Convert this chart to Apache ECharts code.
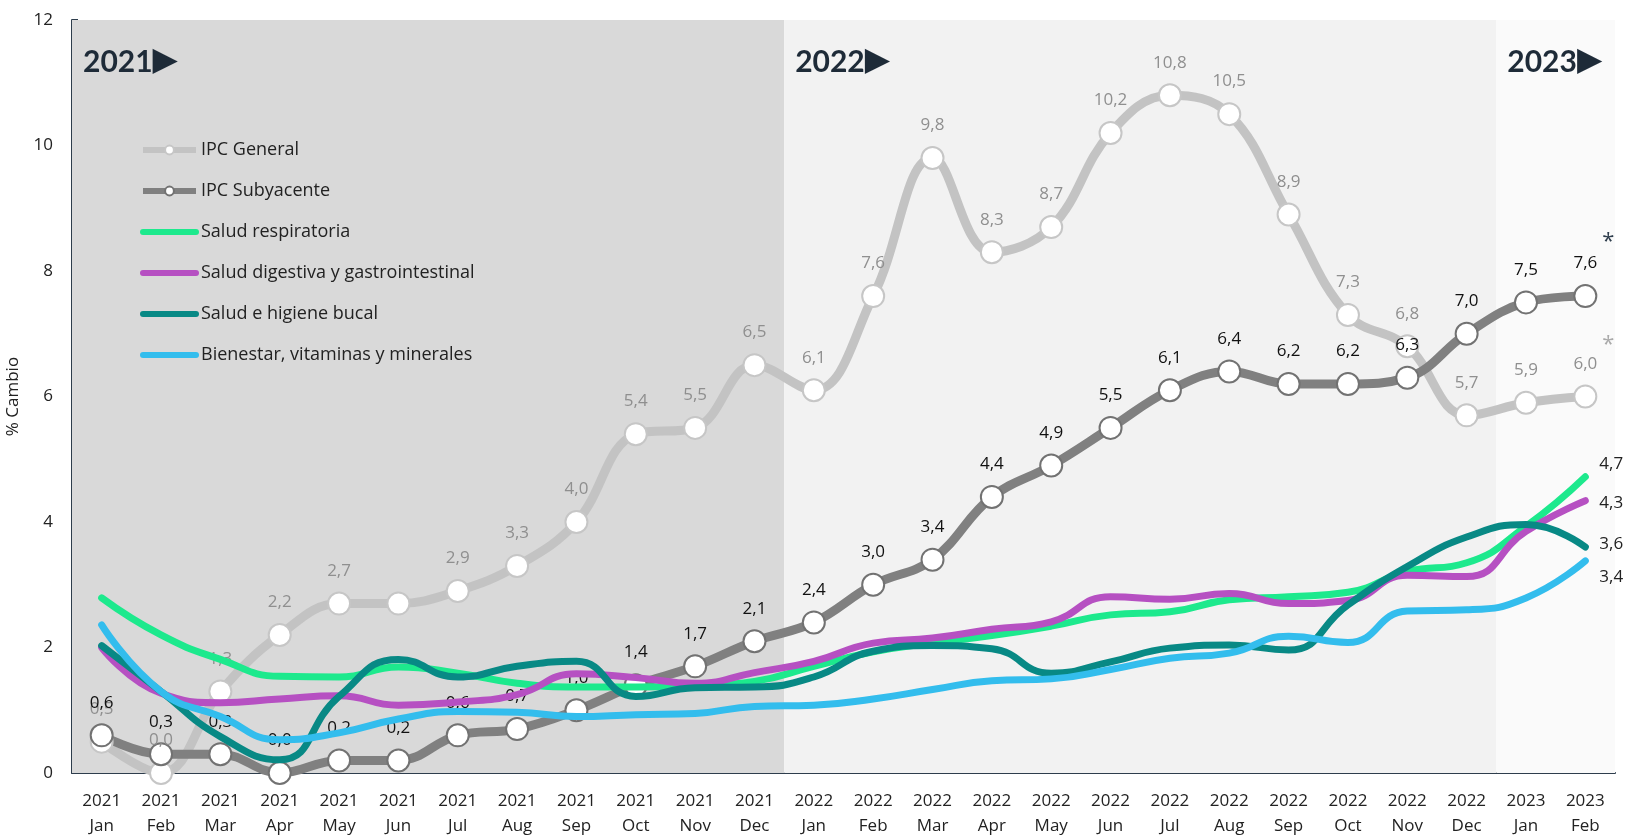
<!DOCTYPE html>
<html>
<head>
<meta charset="utf-8">
<title>IPC y categorías de salud</title>
<script src="https://cdn.jsdelivr.net/npm/echarts@6/dist/echarts.min.js"></script>
<style>
  html, body { margin: 0; padding: 0; background: #fff; }
  #chart { width: 1626px; height: 836px; }
</style>
</head>
<body>
<div id="chart"></div>
<script>
// categorías del eje x (año + mes)
var categories = [
    '2021\nJan', '2021\nFeb', '2021\nMar', '2021\nApr', '2021\nMay', '2021\nJun',
    '2021\nJul', '2021\nAug', '2021\nSep', '2021\nOct', '2021\nNov', '2021\nDec',
    '2022\nJan', '2022\nFeb', '2022\nMar', '2022\nApr', '2022\nMay', '2022\nJun',
    '2022\nJul', '2022\nAug', '2022\nSep', '2022\nOct', '2022\nNov', '2022\nDec',
    '2023\nJan', '2023\nFeb'
];

var ipcGeneral = [0.5, 0.0, 1.3, 2.2, 2.7, 2.7, 2.9, 3.3, 4.0, 5.4, 5.5, 6.5,
    6.1, 7.6, 9.8, 8.3, 8.7, 10.2, 10.8, 10.5, 8.9, 7.3, 6.8, 5.7, 5.9, 6.0];
var ipcSubyacente = [0.6, 0.3, 0.3, 0.0, 0.2, 0.2, 0.6, 0.7, 1.0, 1.4, 1.7, 2.1,
    2.4, 3.0, 3.4, 4.4, 4.9, 5.5, 6.1, 6.4, 6.2, 6.2, 6.3, 7.0, 7.5, 7.6];
var respiratoria = [2.79, 2.2, 1.81, 1.54, 1.53, 1.69, 1.59, 1.43, 1.37, 1.37, 1.39, 1.46,
    1.70, 1.93, 2.07, 2.19, 2.34, 2.52, 2.57, 2.76, 2.81, 2.88, 3.21, 3.35, 3.93, 4.72];
var digestiva = [2.0, 1.27, 1.12, 1.18, 1.23, 1.08, 1.13, 1.25, 1.58, 1.52, 1.43, 1.6,
    1.78, 2.07, 2.15, 2.29, 2.41, 2.81, 2.77, 2.86, 2.70, 2.75, 3.15, 3.13, 3.85, 4.34];
var bucal = [2.03, 1.30, 0.58, 0.21, 1.22, 1.81, 1.53, 1.70, 1.78, 1.22, 1.36, 1.37,
    1.53, 1.94, 2.03, 1.98, 1.59, 1.77, 1.99, 2.04, 1.96, 2.68, 3.29, 3.76, 3.96, 3.60];
var bienestar = [2.36, 1.30, 0.90, 0.53, 0.64, 0.86, 0.98, 0.97, 0.90, 0.93, 0.95, 1.06,
    1.08, 1.18, 1.33, 1.47, 1.50, 1.65, 1.83, 1.91, 2.18, 2.08, 2.58, 2.60, 2.79, 3.38];

// bloques de año (índices de categoría)
var yearNames = ['2021', '2022', '2023'];
var yearStart = [0, 12, 24];
var yearEnd = [12, 24, 26];
var yearColors = ['#d9d9d9', '#f2f2f2', '#fafafa'];

var FONT = '"Open Sans", "Noto Sans", sans-serif';
var last = categories.length - 1;

function comma(p) {
    return Number(p.value).toFixed(1).replace('.', ',');
}

// etiqueta oculta en el IPC General (Jun 2021)
var generalData = ipcGeneral.map(function (v, i) {
    return i === 5 ? { value: v, label: { show: false } } : v;
});

var yearAreas = yearNames.map(function (name, i) {
    return [
        { xAxis: yearStart[i], name: '{y|' + name + '}{t|\u25B6}', itemStyle: { color: yearColors[i] } },
        { xAxis: yearEnd[i] }
    ];
});

function saludSeries(name, data, color, offsetY) {
    return {
        name: name,
        type: 'line',
        data: data,
        smooth: 0.5,
        symbol: 'none',
        z: 3,
        lineStyle: { color: color, width: 7, cap: 'round' },
        itemStyle: { color: color },
        endLabel: {
            show: true,
            formatter: comma,
            color: '#222',
            fontSize: 17,
            fontFamily: FONT,
            distance: 14,
            offset: [0, offsetY]
        }
    };
}

function legendLine(name, withSymbol) {
    var item = { name: name, lineStyle: { width: 6 } };
    if (!withSymbol) {
        item.itemStyle = { opacity: 0 };
    }
    return item;
}

var myChart = echarts.init(document.getElementById('chart'));

var option = {
    animation: false,
    backgroundColor: '#fff',
    textStyle: { fontFamily: FONT },
    grid: { left: 72, right: 11, top: 20, bottom: 63, outerBoundsMode: 'none', containLabel: false },
    legend: {
        orient: 'vertical',
        left: 135,
        top: 136,
        itemWidth: 53,
        itemHeight: 11,
        itemGap: 23,
        textStyle: { fontSize: 18, color: '#222', fontFamily: FONT },
        data: [
            legendLine('IPC General', true),
            legendLine('IPC Subyacente', true),
            legendLine('Salud respiratoria', false),
            legendLine('Salud digestiva y gastrointestinal', false),
            legendLine('Salud e higiene bucal', false),
            legendLine('Bienestar, vitaminas y minerales', false)
        ]
    },
    xAxis: [{
        type: 'category',
        data: categories,
        boundaryGap: true,
        axisLine: { lineStyle: { color: '#2e3d4c', width: 2 } },
        axisTick: { inside: true, length: 6, lineStyle: { color: '#2e3d4c', width: 2 } },
        axisLabel: { color: '#222', fontSize: 17, lineHeight: 25, margin: 16, interval: 0 }
    }, {
        type: 'value',
        min: 0,
        max: categories.length,
        show: false
    }],
    yAxis: {
        type: 'value',
        min: 0,
        max: 12,
        interval: 2,
        name: '% Cambio',
        nameLocation: 'middle',
        nameGap: 50,
        nameTextStyle: { color: '#222', fontSize: 17 },
        splitLine: { show: false },
        axisLine: { show: true, lineStyle: { color: '#2e3d4c', width: 2 } },
        axisTick: { show: true, inside: true, length: 6, lineStyle: { color: '#2e3d4c', width: 2 } },
        axisLabel: { color: '#222', fontSize: 17, margin: 19 }
    },
    series: [
        {
            name: 'años',
            type: 'line',
            xAxisIndex: 1,
            data: [],
            z: 0,
            markArea: {
                silent: true,
                label: {
                    show: true,
                    position: 'insideTopLeft',
                    offset: [6, 20],
                    color: '#1e2b38',
                    rich: {
                        y: {
                            fontFamily: 'Lato, "Open Sans", sans-serif',
                            fontWeight: 'bold',
                            fontSize: 30,
                            color: '#1e2b38',
                            verticalAlign: 'middle'
                        },
                        t: {
                            fontFamily: '"DejaVu Sans", sans-serif',
                            fontSize: 33,
                            color: '#1e2b38',
                            verticalAlign: 'middle',
                            padding: [0, 0, 2, 0]
                        }
                    }
                },
                data: yearAreas
            }
        },
        {
            name: 'IPC General',
            type: 'line',
            data: generalData,
            smooth: 0.4,
            symbol: 'circle',
            symbolSize: 22,
            z: 2,
            lineStyle: { color: '#c3c3c3', width: 9 },
            itemStyle: { color: '#fff', borderColor: '#c6c6c6', borderWidth: 2 },
            label: {
                show: true,
                position: 'top',
                distance: 12,
                formatter: comma,
                color: '#8f8f8f',
                fontSize: 17
            },
            markPoint: {
                symbol: 'circle',
                symbolSize: 0,
                silent: true,
                label: { show: true, formatter: '*', offset: [23, -52], color: '#aaa', fontSize: 22 },
                data: [{ coord: [last, ipcGeneral[last]] }]
            }
        },
        {
            name: 'IPC Subyacente',
            type: 'line',
            data: ipcSubyacente,
            smooth: 0.4,
            symbol: 'circle',
            symbolSize: 22,
            z: 2,
            lineStyle: { color: '#808080', width: 9 },
            itemStyle: { color: '#fff', borderColor: '#727272', borderWidth: 2 },
            label: {
                show: true,
                position: 'top',
                distance: 12,
                formatter: comma,
                color: '#111',
                fontSize: 17
            },
            markPoint: {
                symbol: 'circle',
                symbolSize: 0,
                silent: true,
                label: { show: true, formatter: '*', offset: [23, -54], color: '#2e3d4c', fontSize: 22 },
                data: [{ coord: [last, ipcSubyacente[last]] }]
            }
        },
        saludSeries('Salud respiratoria', respiratoria, '#1de98d', -13),
        saludSeries('Salud digestiva y gastrointestinal', digestiva, '#b650c2', 2),
        saludSeries('Salud e higiene bucal', bucal, '#088985', -3),
        saludSeries('Bienestar, vitaminas y minerales', bienestar, '#33bded', 16)
    ]
};

myChart.setOption(option);
</script>
</body>
</html>
